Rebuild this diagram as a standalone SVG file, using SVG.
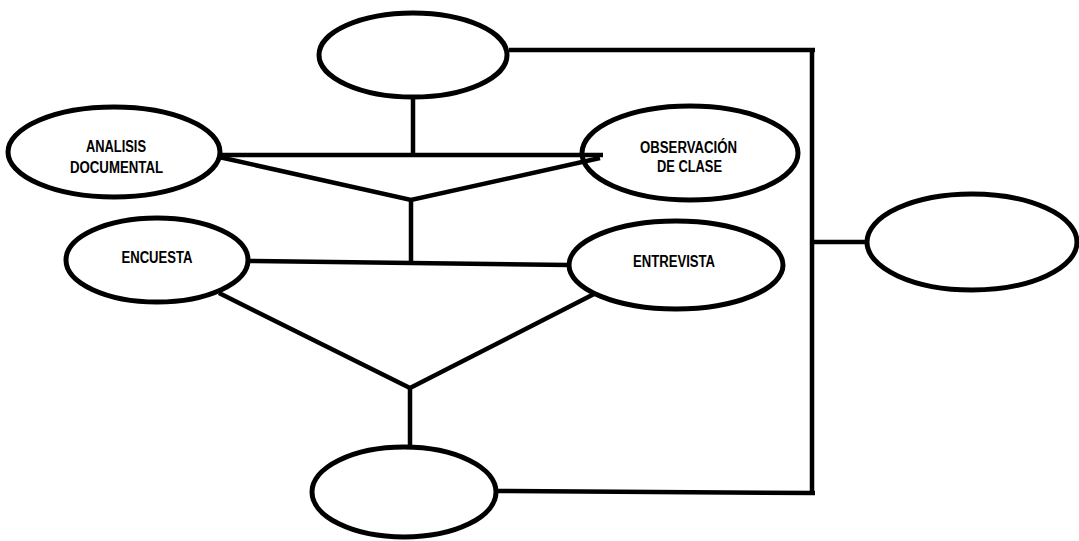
<svg xmlns="http://www.w3.org/2000/svg" width="1079" height="541" viewBox="0 0 1079 541">
<style>
.n{fill:#fff;stroke:#000;stroke-width:5}
.c line,.c polyline{stroke:#000;stroke-width:4.5;fill:none}
.t{font-family:"Liberation Sans",Arial,sans-serif;font-weight:bold;font-size:16px;fill:#000;text-anchor:middle}
</style>
<rect width="1079" height="541" fill="#fff"/>
<g id="top"><ellipse class="n" cx="413" cy="55" rx="94" ry="42"/></g>
<g id="bottom"><ellipse class="n" cx="404" cy="492" rx="92" ry="45"/></g>
<g id="right"><ellipse class="n" cx="972" cy="242" rx="105" ry="48"/></g>
<g id="analisis"><ellipse class="n" cx="114" cy="152" rx="106" ry="45"/>
<text class="t" x="116" y="152" textLength="60" lengthAdjust="spacingAndGlyphs">ANALISIS</text>
<text class="t" x="116.5" y="173" textLength="93" lengthAdjust="spacingAndGlyphs">DOCUMENTAL</text></g>
<g id="observacion"><ellipse class="n" cx="690" cy="153" rx="108" ry="47"/>
<text class="t" x="688.5" y="153" textLength="97" lengthAdjust="spacingAndGlyphs">OBSERVACIÓN</text>
<text class="t" x="689.5" y="172" textLength="65" lengthAdjust="spacingAndGlyphs">DE CLASE</text></g>
<g id="encuesta"><ellipse class="n" cx="157" cy="260" rx="91" ry="42"/>
<text class="t" x="157" y="263" textLength="71" lengthAdjust="spacingAndGlyphs">ENCUESTA</text></g>
<g id="entrevista"><ellipse class="n" cx="676" cy="265" rx="107" ry="44"/>
<text class="t" x="674" y="267" textLength="82" lengthAdjust="spacingAndGlyphs">ENTREVISTA</text></g>
<g class="c" id="connectors">
<line x1="509" y1="50" x2="815" y2="50"/>
<line x1="812" y1="48" x2="812" y2="495"/>
<line x1="497" y1="491" x2="815" y2="493"/>
<line x1="812" y1="242" x2="866" y2="242"/>
<line x1="413" y1="98" x2="413" y2="155"/>
<line x1="220" y1="155" x2="603" y2="155"/>
<polyline points="219,157 411,200 600,158"/>
<line x1="411" y1="200" x2="411" y2="263"/>
<line x1="249" y1="261" x2="569" y2="265"/>
<polyline points="219,293 410,388 596,293"/>
<line x1="410" y1="388" x2="410" y2="446"/>
</g>
</svg>
